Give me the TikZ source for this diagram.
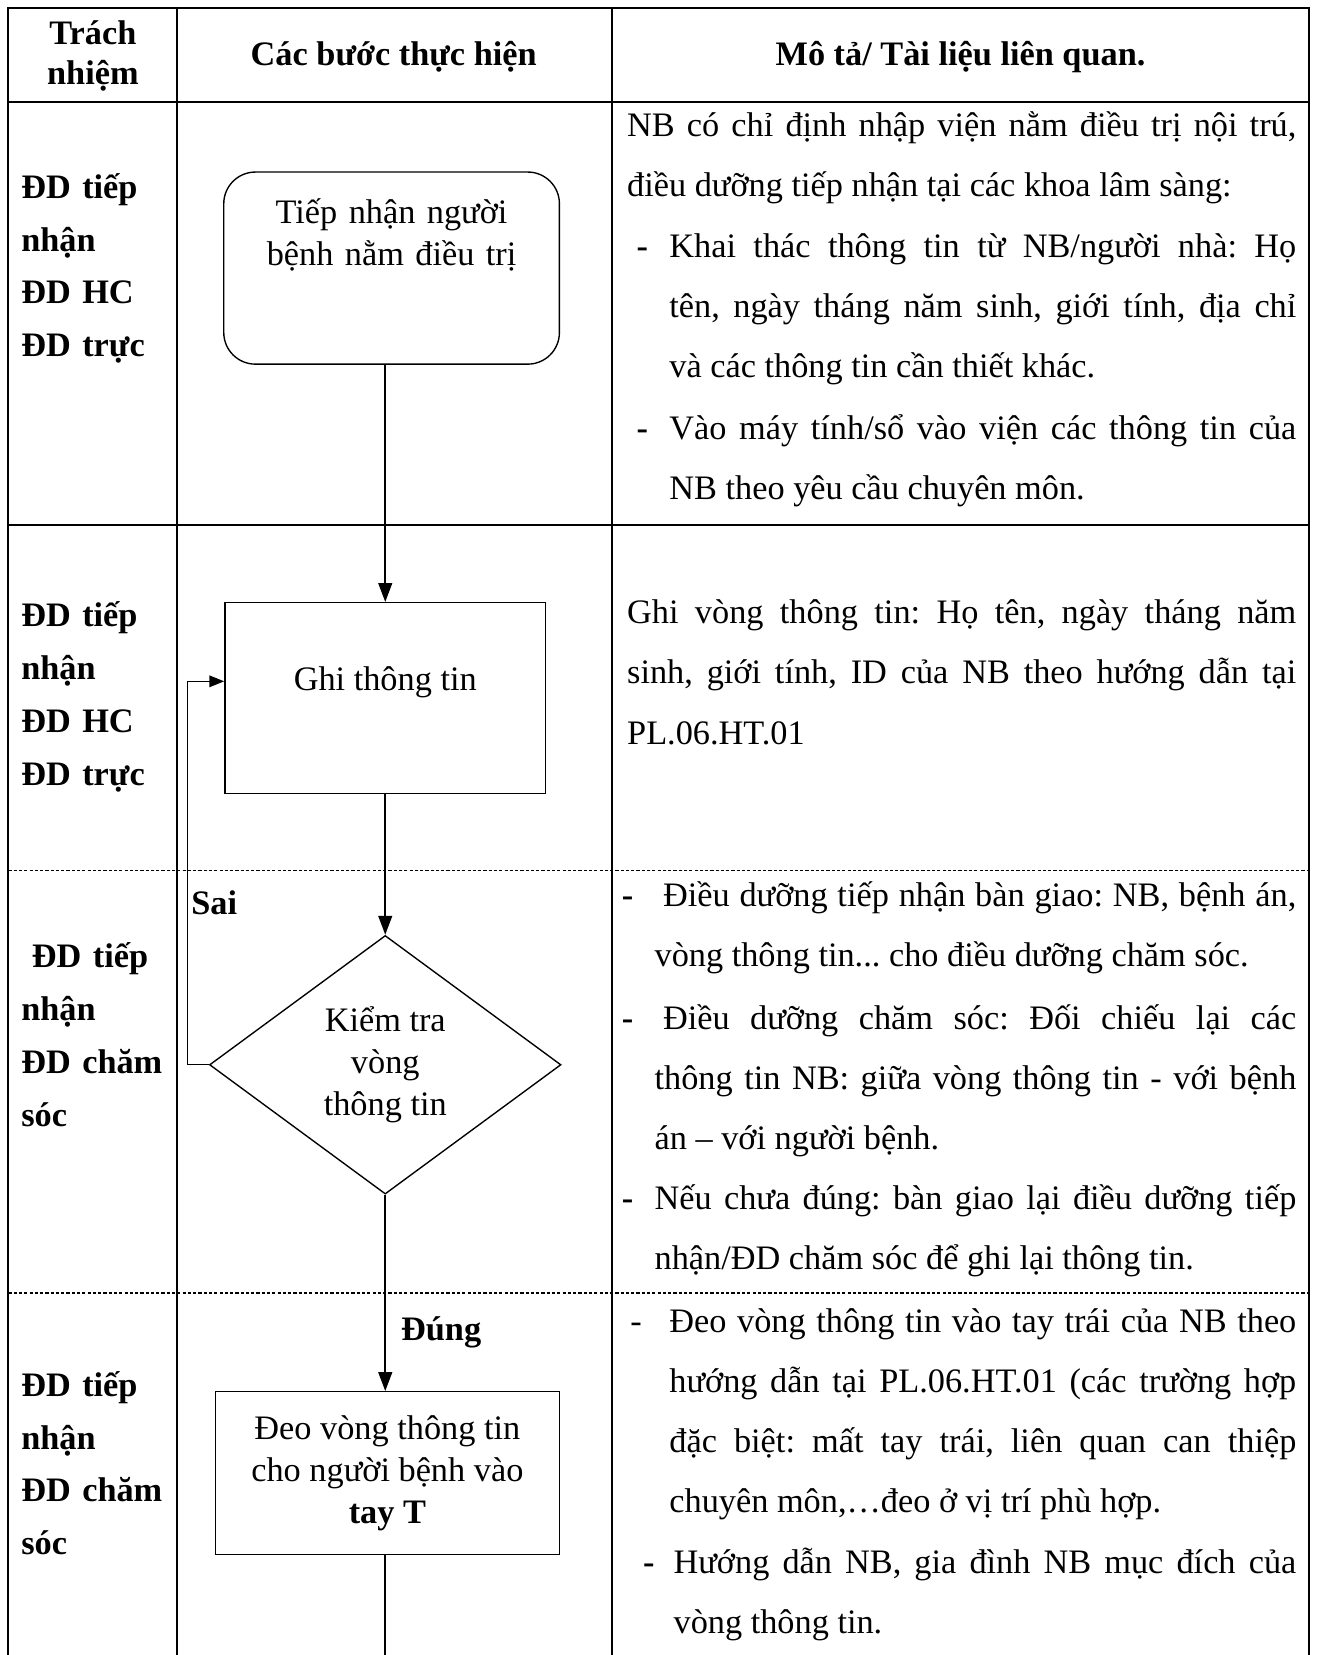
\documentclass[tikz,border=0pt]{standalone}
\usepackage{fontspec}
\setmainfont{Liberation Serif}
\frenchspacing
\usetikzlibrary{positioning, shapes.geometric, arrows.meta}

\begin{document}
\begin{tikzpicture}[
    x=1pt, y=-1pt,
    every node/.style={inner sep=0pt, font=\fontsize{32.5}{40}\selectfont},
    grid/.style={line width=2pt},
    rowline/.style={line width=1pt, dash pattern=on 3pt off 2pt},
    head/.style={font=\fontsize{32.5}{37}\selectfont\bfseries, align=center},
    who/.style={font=\fontsize{32.5}{50}\selectfont\bfseries, text width=145pt, align=left, anchor=base west},
    desc/.style={font=\fontsize{32.5}{57}\selectfont, align=justify, anchor=base west},
    bul/.style={font=\fontsize{32.5}{57}\selectfont\bfseries, anchor=base west},
    startbox/.style={draw, line width=1.3pt, rounded corners=30pt, minimum width=318pt, text width=300pt, align=center, text height=49pt, text depth=133pt},
    stepbox/.style={draw, line width=1.3pt, rectangle, align=center},
    checkbox/.style={draw, line width=1.3pt, diamond, minimum width=333pt, minimum height=245pt, align=center},
    tag/.style={font=\fontsize{32.5}{40}\selectfont\bfseries},
    arrow/.style={-{Triangle[length=18pt, width=13pt]}, line width=2pt},
    loop/.style={-{Triangle[length=14pt, width=11pt]}, line width=1.3pt},
    link/.style={line width=2pt}
]
\useasboundingbox (0,0) rectangle (1247,1568);

% table
\draw[grid] (8,1575) -- (8,8) -- (1240,8) -- (1240,1575);
\draw[grid] (168,8) -- (168,1575);
\draw[grid] (580,8) -- (580,1575);
\draw[grid] (8,97) -- (1240,97);
\draw[grid] (8,497) -- (1240,497);
\draw[rowline] (8,825) -- (1240,825);
\draw[rowline] (8,1225) -- (1240,1225);

\node[head] (h1) at (88,53) {Trách\\nhiệm};
\node[head] (h2) at (373,54) {Các bước thực hiện};
\node[head] (h3) at (910,54) {Mô tả/ Tài liệu liên quan.};

% responsible
\node[who] (w1) at (20,188) {ĐD tiếp\\nhận\\ĐD HC\\ĐD trực};
\node[who] (w2) at (20,594) {ĐD tiếp\\nhận\\ĐD HC\\ĐD trực};
\node[who] (w3) at (20,917) {\hspace*{10pt}ĐD tiếp\\nhận\\ĐD chăm\\sóc};
\node[who] (w4) at (20,1323) {ĐD tiếp\\nhận\\ĐD chăm\\sóc};

% steps
\node[startbox] (1) at (371,254) {Tiếp nhận người\\bệnh nằm điều trị};
\node[stepbox, minimum width=304pt, text height=83pt, text depth=98pt] (2) at (365,661.5) {Ghi thông tin};
\node[checkbox, below=131pt of 2, yshift=-2pt] (3) {Kiểm tra\\vòng\\thông tin};
\node[stepbox, minimum width=326pt, minimum height=154pt, below=186pt of 3, xshift=2pt] (4) {Đeo vòng thông tin\\cho người bệnh vào\\\textbf{tay T}};
\coordinate (end) at (367,1580);

\draw[arrow] (1.south -| 2.north) -- (2);
\draw[arrow] (2) -- (3);
\draw[arrow] (3.south) -- node[tag, pos=0.7, right=14pt] (yes) {Đúng} (3.south |- 4.north);
\draw[loop] (3.west) -- ++(-20pt,0) |- ([yshift=16pt]2.west);
\node[tag] (no) at (203,855) {Sai};
\draw[link] (4.south -| 3.south) -- (end -| 3.south);

% description
\node[desc, text width=634pt] (d1) at (594,129) {NB có chỉ định nhập viện nằm điều trị nội trú,\linebreak điều dưỡng tiếp nhận tại các khoa lâm sàng:};
\node[bul] (b1) at (603,244) {-};
\node[desc, text width=594pt] (d2) at (634,244) {Khai thác thông tin từ NB/người nhà: Họ\linebreak tên, ngày tháng năm sinh, giới tính, địa chỉ\linebreak và các thông tin cần thiết khác.};
\node[bul] (b2) at (603,416) {-};
\node[desc, text width=594pt] (d3) at (634,416) {Vào máy tính/sổ vào viện các thông tin của\linebreak NB theo yêu cầu chuyên môn.};

\node[desc, text width=634pt] (d4) at (594,591) {Ghi vòng thông tin: Họ tên, ngày tháng năm\linebreak sinh, giới tính, ID của NB theo hướng dẫn tại\linebreak PL.06.HT.01};

\node[bul] (b3) at (589,859) {-};
\node[desc, text width=608pt] (d5) at (620,859) {\hspace*{8pt}Điều dưỡng tiếp nhận bàn giao: NB, bệnh án,\linebreak vòng thông tin... cho điều dưỡng chăm sóc.};
\node[bul] (b4) at (589,975) {-};
\node[desc, text width=608pt] (d6) at (620,975) {\hspace*{8pt}Điều dưỡng chăm sóc: Đối chiếu lại các\linebreak thông tin NB: giữa vòng thông tin - với bệnh\linebreak án – với người bệnh.};
\node[bul] (b5) at (589,1146) {-};
\node[desc, text width=608pt] (d7) at (620,1146) {Nếu chưa đúng: bàn giao lại điều dưỡng tiếp\linebreak nhận/ĐD chăm sóc để ghi lại thông tin.};

\node[bul, font=\fontsize{32.5}{57}\selectfont] (b6) at (597,1262) {-};
\node[desc, text width=594pt] (d8) at (634,1262) {Đeo vòng thông tin vào tay trái của NB theo\linebreak hướng dẫn tại PL.06.HT.01 (các trường hợp\linebreak đặc biệt: mất tay trái, liên quan can thiệp\linebreak chuyên môn,…đeo ở vị trí phù hợp.};
\node[bul] (b7) at (609,1491) {-};
\node[desc, text width=590pt] (d9) at (638,1491) {Hướng dẫn NB, gia đình NB mục đích của\linebreak vòng thông tin.};

\end{tikzpicture}
\end{document}
